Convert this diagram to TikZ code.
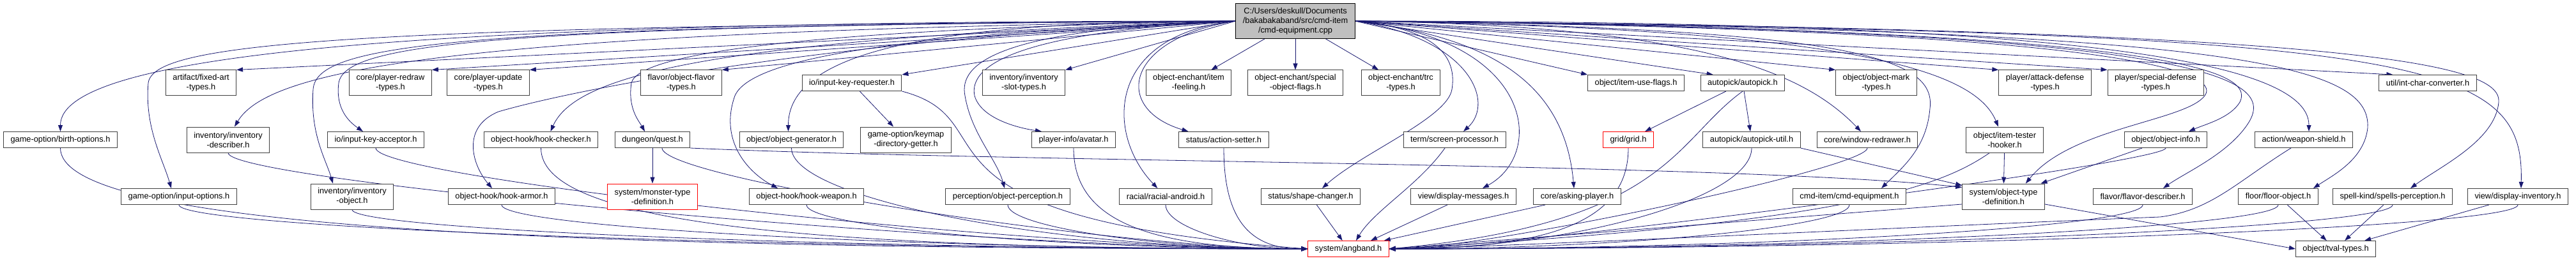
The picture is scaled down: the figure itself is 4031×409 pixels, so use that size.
\documentclass[tikz,border=0pt]{standalone}
\usepackage{fontspec}
\setmainfont{Liberation Sans}
\usepackage{tikz}
\usetikzlibrary{arrows.meta,calc,backgrounds}
\definecolor{edgeblue}{RGB}{25,25,112}
\definecolor{rootgray}{RGB}{191,191,191}
\definecolor{boxgray}{RGB}{64,64,64}
\definecolor{missred}{RGB}{255,0,0}

\begin{document}
\begin{tikzpicture}[x=1pt, y=-1pt, font=\fontsize{12.8}{15}\selectfont,
    hdr/.style={rectangle, draw=boxgray, fill=white, line width=1pt, inner xsep=11pt, inner ysep=2pt, minimum height=25pt, align=center},
    tall/.style={minimum height=40pt},
    missing/.style={draw=missred},
    dep/.style={draw=edgeblue, line width=0.8pt, -{Triangle[length=10pt, width=7pt]}},
    hv/.style={to path={let \p1=(\tikztostart), \p2=(\tikztotarget) in .. controls ({\x1+#1*(\x2-\x1)},\y1) and (\x2,{\y2+#1*(\y1-\y2)}) .. (\tikztotarget)}},
    hv/.default=0.7,
    vh/.style={to path={let \p1=(\tikztostart), \p2=(\tikztotarget) in .. controls (\x1,{\y1+#1*(\y2-\y1)}) and ({\x2+#1*(\x1-\x2)},\y2) .. (\tikztotarget)}},
    vh/.default=0.7]
        \useasboundingbox (0,0) rectangle (4031,409);
        \node[hdr, fill=rootgray, draw=black, minimum height=55pt] (root) at (2027,33) {C:/Users/deskull/Documents\\/bakabakaband/src/cmd-item\\/cmd-equipment.cpp};

        \node[hdr, tall] (fixedart) at (314.5,130) {artifact/fixed-art\\-types.h};
        \node[hdr, tall] (redraw) at (611,130) {core/player-redraw\\-types.h};
        \node[hdr, tall] (update) at (764,130) {core/player-update\\-types.h};
        \node[hdr, tall] (flavortypes) at (1066,130) {flavor/object-flavor\\-types.h};
        \node[hdr] (requester) at (1333,130) {io/input-key-requester.h};
        \node[hdr, tall] (slottypes) at (1602,130) {inventory/inventory\\-slot-types.h};
        \node[hdr, tall] (feeling) at (1860,130) {object-enchant/item\\-feeling.h};
        \node[hdr, tall] (specialflags) at (2027,130) {object-enchant/special\\-object-flags.h};
        \node[hdr, tall] (trc) at (2192,130) {object-enchant/trc\\-types.h};
        \node[hdr] (useflags) at (2560,130) {object/item-use-flags.h};
        \node[hdr] (autopick) at (2727,130) {autopick/autopick.h};
        \node[hdr, tall] (marktypes) at (2936,130) {object/object-mark\\-types.h};
        \node[hdr, tall] (attackdef) at (3200,130) {player/attack-defense\\-types.h};
        \node[hdr, tall] (specialdef) at (3373,130) {player/special-defense\\-types.h};
        \node[hdr] (intchar) at (3799,130) {util/int-char-converter.h};

        \node[hdr] (birth) at (94.5,219) {game-option/birth-options.h};
        \node[hdr, tall] (invdesc) at (357,219) {inventory/inventory\\-describer.h};
        \node[hdr] (acceptor) at (588,219) {io/input-key-acceptor.h};
        \node[hdr] (hookcheck) at (846.5,219) {object-hook/hook-checker.h};
        \node[hdr] (quest) at (1021,219) {dungeon/quest.h};
        \node[hdr] (objgen) at (1238.5,219) {object/object-generator.h};
        \node[hdr, tall] (keymap) at (1417.5,219) {game-option/keymap\\-directory-getter.h};
        \node[hdr] (avatar) at (1680,219) {player-info/avatar.h};
        \node[hdr] (action) at (1915,219) {status/action-setter.h};
        \node[hdr] (screen) at (2276,219) {term/screen-processor.h};
        \node[hdr, missing] (grid) at (2548,219) {grid/grid.h};
        \node[hdr] (apickutil) at (2741,219) {autopick/autopick-util.h};
        \node[hdr] (redrawer) at (2922,219) {core/window-redrawer.h};
        \node[hdr, tall] (tester) at (3137,219) {object/item-tester\\-hooker.h};
        \node[hdr] (objinfo) at (3389,219) {object/object-info.h};
        \node[hdr] (shield) at (3605,219) {action/weapon-shield.h};

        \node[hdr] (inputopt) at (280,308) {game-option/input-options.h};
        \node[hdr, tall] (invobj) at (551,308) {inventory/inventory\\-object.h};
        \node[hdr] (hookarmor) at (785,308) {object-hook/hook-armor.h};
        \node[hdr, tall, missing] (monsterdef) at (1021,308) {system/monster-type\\-definition.h};
        \node[hdr] (hookweapon) at (1262,308) {object-hook/hook-weapon.h};
        \node[hdr] (perception) at (1577,308) {perception/object-perception.h};
        \node[hdr] (android) at (1824,308) {racial/racial-android.h};
        \node[hdr] (shape) at (2051,308) {status/shape-changer.h};
        \node[hdr] (dispmsg) at (2290,308) {view/display-messages.h};
        \node[hdr] (asking) at (2468,308) {core/asking-player.h};
        \node[hdr] (cmdequip) at (2894,308) {cmd-item/cmd-equipment.h};
        \node[hdr, tall] (objdef) at (3135,308) {system/object-type\\-definition.h};
        \node[hdr] (flavordesc) at (3353,308) {flavor/flavor-describer.h};
        \node[hdr] (floorobj) at (3565,308) {floor/floor-object.h};
        \node[hdr] (spellsperc) at (3744,308) {spell-kind/spells-perception.h};
        \node[hdr] (dispinv) at (3940,308) {view/display-inventory.h};

        \node[hdr, missing] (angband) at (2110,390) {system/angband.h};
        \node[hdr] (tval) at (3655,390) {object/tval-types.h};

        \begin{scope}[on background layer]
        \draw[dep] (root.west) -- (fixedart.north east);
        \draw[dep] (root.west) -- (redraw.north east);
        \draw[dep] (root.west) -- (update.north east);
        \draw[dep] (root.west) -- (flavortypes.north east);
        \draw[dep] (root.west) -- (requester.north east);
        \draw[dep] (root.west) -- (slottypes.north east);
        \draw[dep] (root) -- (feeling);
        \draw[dep] (root) -- (specialflags);
        \draw[dep] (root) -- (trc);
        \draw[dep] (root.east) -- (useflags.north west);
        \draw[dep] (root.east) -- ([xshift=20pt]autopick.north west);
        \draw[dep] (root.east) -- (marktypes.north west);
        \draw[dep] (root.east) -- (attackdef.north west);
        \draw[dep] (root.east) -- (specialdef.north west);
        \draw[dep] (root.east) -- ([xshift=22pt]intchar.north west);

        \draw[dep] (root.west) to[hv] (birth.north);
        \draw[dep] (root.west) .. controls (700,50) and (420,110) .. ([xshift=10pt]invdesc.north);
        \draw[dep] (root.west) .. controls (500,40) and (240,70) .. (232,130) .. controls (226,200) and (255,250) .. ([xshift=-12pt]inputopt.north);
        \draw[dep] (root.west) .. controls (700,40) and (495,70) .. (490,140) .. controls (485,210) and (510,250) .. ([xshift=-30pt]invobj.north);
        \draw[dep] (root.west) .. controls (750,40) and (540,70) .. (530,130) .. controls (525,170) and (545,190) .. ([xshift=-20pt]acceptor.north);
        \draw[dep] (root.west) .. controls (1300,60) and (900,140) .. (780,175) .. controls (720,200) and (740,260) .. ([xshift=-15pt]hookarmor.north);
        \draw[dep] (root.west) .. controls (1100,60) and (900,120) .. ([xshift=15pt]hookcheck.north);
        \draw[dep] (root.west) .. controls (1300,45) and (1000,80) .. (988,130) .. controls (982,170) and (1000,190) .. ([xshift=-12pt]quest.north);
        \draw[dep] (root.west) to[hv] ([xshift=-5pt]objgen.north);
        \draw[dep] (root.west) .. controls (1500,50) and (1180,80) .. (1150,150) .. controls (1125,220) and (1170,270) .. ([xshift=-45pt]hookweapon.north);
        \draw[dep] (root.west) .. controls (1560,45) and (1500,100) .. (1510,150) .. controls (1520,210) and (1560,250) .. ([xshift=-5pt]perception.north);
        \draw[dep] (root.west) .. controls (1600,50) and (1515,100) .. (1525,150) .. controls (1535,185) and (1590,200) .. ([xshift=-50pt]avatar.north);
        \draw[dep] (root.west) .. controls (1760,60) and (1740,170) .. ([xshift=15pt]action.north west);
        \draw[dep] (root.west) .. controls (1730,55) and (1730,210) .. ([xshift=60pt]android.north west);
        \draw[dep] (root.east) .. controls (2250,45) and (2280,90) .. (2272,140) .. controls (2265,185) and (2130,240) .. ([xshift=-60pt]shape.north east);
        \draw[dep] (root.east) .. controls (2300,60) and (2340,160) .. ([xshift=14pt]screen.north);
        \draw[dep] (root.east) .. controls (2400,60) and (2420,240) .. ([xshift=30pt]dispmsg.north);
        \draw[dep] (root.east) .. controls (2360,60) and (2450,150) .. ([xshift=-5pt]asking.north);
        \draw[dep] (root.east) .. controls (2650,40) and (2820,110) .. ([xshift=-10pt]redrawer.north);
        \draw[dep] (root.east) .. controls (2900,45) and (3030,90) .. (3020,170) .. controls (3015,230) and (2980,260) .. ([xshift=50pt]cmdequip.north);
        \draw[dep] (root.east) .. controls (2900,45) and (3090,110) .. ([xshift=-10pt]tester.north);
        \draw[dep] (root.east) .. controls (3300,45) and (3480,110) .. (3450,150) .. controls (3420,190) and (3240,200) .. ([xshift=-30pt]objdef.north east);
        \draw[dep] (root.east) .. controls (3400,45) and (3530,110) .. (3505,160) .. controls (3490,185) and (3450,195) .. ([xshift=36pt]objinfo.north);
        \draw[dep] (root.east) .. controls (3450,45) and (3560,120) .. (3520,190) .. controls (3490,240) and (3420,270) .. ([xshift=32pt]flavordesc.north);
        \draw[dep] (root.east) to[hv] ([xshift=8pt]shield.north);
        \draw[dep] (root.east) .. controls (3500,45) and (3710,100) .. (3705,200) .. controls (3700,250) and (3650,275) .. ([xshift=55pt]floorobj.north);
        \draw[dep] (root.east) .. controls (3700,45) and (3915,100) .. (3910,160) .. controls (3905,220) and (3820,260) .. ([xshift=28pt]spellsperc.north);
        \draw[dep] (root.east) .. controls (3800,50) and (3950,90) .. ([xshift=5pt]dispinv.north);

        \draw[dep] (birth.south) to[vh] (angband.west);
        \draw[dep] (invdesc.south) to[vh=0.3] (angband.west);
        \draw[dep] (inputopt.south) to[vh=0.5] (angband.west);
        \draw[dep] (invobj.south) to[vh=0.5] (angband.west);
        \draw[dep] (acceptor.south) to[vh=0.3] (angband.west);
        \draw[dep] (hookarmor.south) to[vh=0.5] (angband.west);
        \draw[dep] (hookcheck.south) to[vh] (angband.west);
        \draw[dep] ([xshift=15pt]quest.south) to[vh=0.3] (angband.west);
        \draw[dep] (objgen.south) to[vh=0.5] (angband.west);
        \draw[dep] (hookweapon.south) to[vh=0.5] (angband.west);
        \draw[dep] (requester.south east) .. controls (1590,190) and (1380,340) .. (angband.west);
        \draw[dep] (perception.south) to[vh=0.5] (angband.west);
        \draw[dep] (avatar.south) to[vh] (angband.west);
        \draw[dep] (android.south) to[vh=0.5] (angband.west);
        \draw[dep] (action.south) to[vh] (angband.west);
        \draw[dep] (shape) -- (angband);
        \draw[dep] ([xshift=-15pt]screen.south) .. controls (2220,290) and (2150,330) .. ([xshift=12pt]angband.north);
        \draw[dep] ([xshift=-25pt]dispmsg.south) -- ([xshift=35pt]angband.north);
        \draw[dep] ([xshift=-50pt]asking.south) -- ([xshift=-8pt]angband.north east);
        \draw[dep] (grid.south) to[vh] (angband.east);
        \draw[dep] (autopick.south) .. controls (2620,220) and (2610,350) .. (angband.east);
        \draw[dep] (apickutil.south) to[vh=0.5] (angband.east);
        \draw[dep] (redrawer.south) to[vh=0.2] (angband.east);
        \draw[dep] (cmdequip.south) to[vh=0.5] (angband.east);
        \draw[dep] ([xshift=37pt]tester.south west) .. controls (3040,290) and (2900,350) .. (angband.east);
        \draw[dep] (objinfo.south) to[vh=0.15] (angband.east);
        \draw[dep] ([yshift=-12pt]objdef.west) -- (angband.east);
        \draw[dep] (flavordesc.south) to[vh=0.5] (angband.east);
        \draw[dep] ([xshift=-20pt]shield.south) .. controls (3500,285) and (3460,330) .. (3380,340) .. controls (3000,355) and (2400,385) .. (angband.east);
        \draw[dep] (floorobj.south) to[vh=0.5] (angband.east);
        \draw[dep] (spellsperc.south) to[vh=0.5] (angband.east);
        \draw[dep] (dispinv.south) to[vh=0.5] (angband.east);

        \draw[dep] (quest) -- (monsterdef);
        \draw[dep] (quest.south east) .. controls (1600,255) and (2700,255) .. ([yshift=-6pt]objdef.north west);
        \draw[dep] (requester) -- (keymap);
        \draw[dep] (autopick) -- (grid);
        \draw[dep] (autopick) -- (apickutil);
        \draw[dep] (apickutil.south east) -- ([yshift=-3pt]objdef.north west);
        \draw[dep] (tester) -- (objdef);
        \draw[dep] (objinfo) -- (objdef);
        \draw[dep] ([yshift=-12pt]objdef.east) -- (tval.west);
        \draw[dep] (floorobj) -- (tval);
        \draw[dep] (spellsperc) -- (tval);
        \draw[dep] (dispinv) -- (tval);
        \end{scope}
      \end{tikzpicture}
\end{document}
